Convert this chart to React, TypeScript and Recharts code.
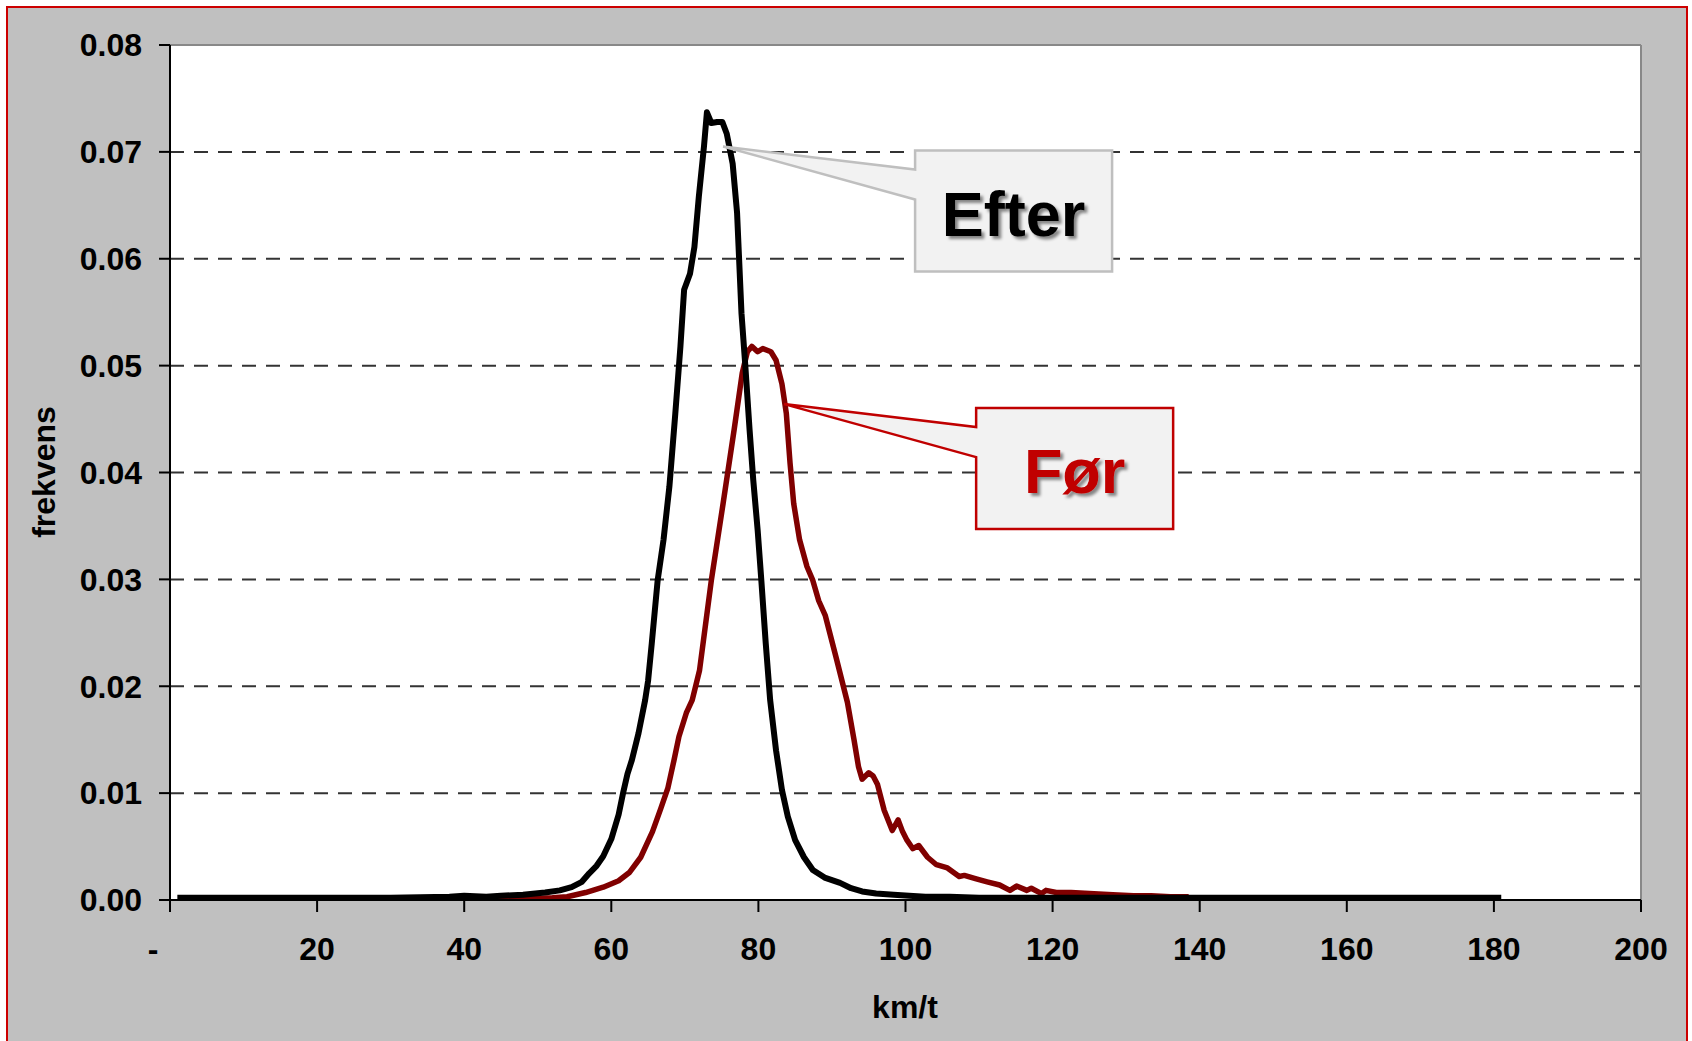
import { LineChart, Line, XAxis, YAxis, CartesianGrid, ReferenceLine, ReferenceDot } from "recharts";

// Efter (after) - speed in km/t and frequency
const efterSpeed = [
  1, 10, 20, 30, 38, 40, 43, 45, 48, 51, 53, 54.6, 56, 57, 58, 58.9, 60, 61, 61.6, 62.2, 62.8, 63.7, 64.6,
  65.0, 65.5, 66.3, 67.1, 67.9, 68.7, 69.4, 69.9, 70.7, 71.3, 71.9, 72.6, 73.0, 73.6, 74.4, 75.1, 75.7,
  76.5, 77.1, 77.7, 78.2, 78.8, 79.3, 79.9, 80.4, 81.0, 81.6, 82.4, 83.2, 84.0, 85.0, 86.2, 87.4, 89.0,
  91.1, 92.6, 94.1, 96, 98.4, 100.5, 102.7, 106, 110, 120, 140, 160, 181,
];
const efterFreq = [
  0.0002, 0.0002, 0.0002, 0.0002, 0.0003, 0.0004, 0.0003, 0.0004, 0.0005, 0.0007, 0.0009, 0.0012, 0.0017,
  0.0025, 0.0032, 0.0041, 0.0057, 0.008, 0.01, 0.0118, 0.0131, 0.0156, 0.0187, 0.0205, 0.024, 0.0299,
  0.0337, 0.0387, 0.0455, 0.0518, 0.0571, 0.0586, 0.0611, 0.0658, 0.0705, 0.0737, 0.0727, 0.0728, 0.0728,
  0.0717, 0.0689, 0.0643, 0.0549, 0.0502, 0.044, 0.0393, 0.0346, 0.0299, 0.024, 0.0187, 0.014, 0.0103,
  0.0078, 0.0056, 0.004, 0.0028, 0.0021, 0.0016, 0.0011, 0.0008, 0.0006, 0.0005, 0.0004, 0.0003, 0.0003,
  0.0002, 0.0002, 0.0002, 0.0002, 0.0002,
];

// Før (before)
const forSpeed = [
  30, 40, 48.5, 52, 54, 56.5, 58.9, 61, 62.5, 64, 65.6, 66.7, 67.7, 68.5, 69.2, 70.2, 71.0, 72.0, 73.6,
  75.2, 76.7, 77.8, 78.5, 79.1, 79.9, 80.6, 81.7, 82.4, 83.2, 83.8, 84.3, 84.8, 85.6, 86.6, 87.4, 88.2,
  89.1, 90.6, 92.1, 93.0, 93.6, 94.1, 95.0, 95.6, 96.2, 97.1, 98.2, 99.0, 99.6, 100.2, 101.0, 101.8, 103.0,
  104.2, 105.7, 107.3, 108.0, 109.5, 111.1, 112.8, 114.2, 115.1, 116.5, 117.1, 118.5, 119.1, 120.5, 122.5,
  125, 128.2, 131, 133.4, 136, 138.5,
];
const forFreq = [
  0.0001, 0.0001, 0.0001, 0.0002, 0.0003, 0.0007, 0.0012, 0.0018, 0.0026, 0.004, 0.0064, 0.0085, 0.0105,
  0.013, 0.0153, 0.0175, 0.0187, 0.0215, 0.0299, 0.0371, 0.044, 0.0493, 0.0513, 0.0518, 0.0513, 0.0516,
  0.0513, 0.0505, 0.0483, 0.0455, 0.0409, 0.0371, 0.0337, 0.0312, 0.0299, 0.028, 0.0266, 0.0226, 0.0185,
  0.015, 0.0125, 0.0113, 0.0119, 0.0116, 0.0108, 0.0084, 0.0065, 0.0075, 0.0064, 0.0056, 0.0048, 0.0051,
  0.004, 0.0033, 0.003, 0.0022, 0.0023, 0.002, 0.0017, 0.0014, 0.0009, 0.0013, 0.0009, 0.0011, 0.0006,
  0.0009, 0.0007, 0.0007, 0.0006, 0.0005, 0.0004, 0.0004, 0.0003, 0.0003,
];

const xTicks = [0, 20, 40, 60, 80, 100, 120, 140, 160, 180, 200];
const yTicks = [0, 0.01, 0.02, 0.03, 0.04, 0.05, 0.06, 0.07, 0.08];

const efterData = efterSpeed.map((speed, i) => ({ speed, freq: efterFreq[i] }));
const forData = forSpeed.map((speed, i) => ({ speed, freq: forFreq[i] }));

const FONT = '"Liberation Sans", Arial, sans-serif';

type CalloutProps = {
  cx?: number;
  cy?: number;
  text: string;
  color: string;
  border: string;
  id: string;
};

// callout box with a wedge pointing at the curve (tip sits on cx, cy)
const Callout = ({ cx = 0, cy = 0, text, color, border, id }: CalloutProps) => {
  const left = cx + 192;
  const right = cx + 389;
  const top = cy + 4;
  const bottom = cy + 125;
  const d = `M${left},${top} L${right},${top} L${right},${bottom} L${left},${bottom} L${left},${cy + 53} L${cx},${cy} L${left},${cy + 23} Z`;
  return (
    <g>
      <defs>
        <filter id={id} x="-20%" y="-20%" width="140%" height="140%">
          <feDropShadow dx="3" dy="3" stdDeviation="1.5" floodColor="#000" floodOpacity="0.45" />
        </filter>
      </defs>
      <path d={d} fill="#f2f2f2" stroke={border} strokeWidth={2.5} />
      <text
        x={(left + right) / 2}
        y={cy + 89}
        textAnchor="middle"
        fontFamily={FONT}
        fontWeight="bold"
        fontSize={63}
        fill={color}
        filter={`url(#${id})`}
      >
        {text}
      </text>
    </g>
  );
};

// x tick: the zero is shown as a dash, set a little to the left like the original
const XTick = (props: any) => {
  const { x, y, payload } = props;
  const isZero = payload.value === 0;
  return (
    <text
      x={isZero ? x - 17 : x}
      y={y}
      dy="0.71em"
      textAnchor="middle"
      fontFamily={FONT}
      fontWeight="bold"
      fontSize={32}
      fill="#000"
    >
      {isZero ? "-" : payload.value}
    </text>
  );
};

const App = () => {
  return (
    <div style={{ position: "absolute", left: 0, top: 0, width: 1692, height: 1041, background: "#fff", overflow: "hidden" }}>
      <div
        style={{
          position: "absolute",
          left: 6,
          top: 6,
          width: 1682,
          height: 1100,
          boxSizing: "border-box",
          border: "2px solid #cc0000",
          background: "#c0c0c0",
        }}
      />
      <div style={{ position: "absolute", left: 0, top: 0 }}>
        <LineChart width={1692} height={1041} margin={{ top: 45, right: 51, bottom: 41, left: 40 }}>
          <CartesianGrid
            vertical={false}
            fill="#fff"
            stroke="#333"
            strokeWidth={2}
            strokeDasharray="14 10"
            horizontalValues={[0.01, 0.02, 0.03, 0.04, 0.05, 0.06, 0.07]}
          />
          <XAxis
            type="number"
            dataKey="speed"
            domain={[0, 200]}
            ticks={xTicks}
            allowDataOverflow
            height={100}
            stroke="#000"
            strokeWidth={2}
            tickSize={12}
            tickMargin={25}
            tick={<XTick />}
            label={{
              content: () => (
                <text x={905} y={1018} textAnchor="middle" fontFamily={FONT} fontWeight="bold" fontSize={32} fill="#000">
                  km/t
                </text>
              ),
            }}
          />
          <YAxis
            type="number"
            domain={[0, 0.08]}
            ticks={yTicks}
            allowDataOverflow
            width={130}
            stroke="#000"
            strokeWidth={2}
            tickSize={11}
            tickMargin={17}
            tickFormatter={(v: number) => v.toFixed(2)}
            tick={{ fill: "#000", fontSize: 32, fontWeight: "bold", fontFamily: FONT }}
            label={{
              content: () => (
                <text
                  x={55}
                  y={472}
                  transform="rotate(-90 55 472)"
                  textAnchor="middle"
                  fontFamily={FONT}
                  fontWeight="bold"
                  fontSize={32}
                  fill="#000"
                >
                  frekvens
                </text>
              ),
            }}
          />
          <ReferenceLine y={0.08} stroke="#888" strokeWidth={2} />
          <ReferenceLine x={200} stroke="#888" strokeWidth={2} />
          <Line
            data={forData}
            dataKey="freq"
            type="linear"
            stroke="#800000"
            strokeWidth={5.5}
            strokeLinejoin="round"
            dot={false}
            isAnimationActive={false}
          />
          <Line
            data={efterData}
            dataKey="freq"
            type="linear"
            stroke="#000"
            strokeWidth={6}
            strokeLinejoin="round"
            dot={false}
            isAnimationActive={false}
          />
          <ReferenceDot
            x={75.2}
            y={0.0705}
            r={0}
            shape={(p: any) => <Callout cx={p.cx} cy={p.cy} text="Efter" color="#000" border="#bfbfbf" id="shadow-efter" />}
          />
          <ReferenceDot
            x={83.5}
            y={0.0464}
            r={0}
            shape={(p: any) => <Callout cx={p.cx} cy={p.cy} text="Før" color="#c00000" border="#c00000" id="shadow-for" />}
          />
        </LineChart>
      </div>
    </div>
  );
};

export default App;
